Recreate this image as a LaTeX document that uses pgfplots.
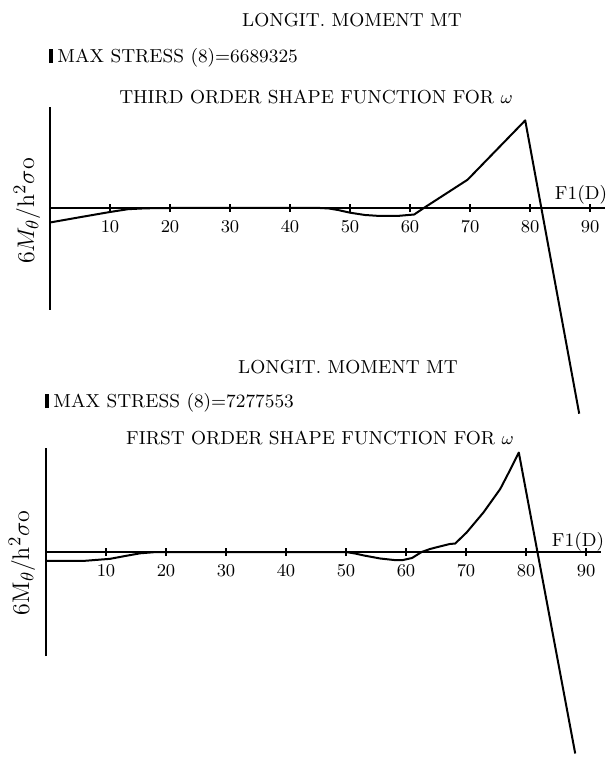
\documentclass[border=0pt]{standalone}
\usepackage{pgfplots}
\pgfplotsset{compat=1.18}
\newcommand{\tf}{\fontsize{9.4}{11}\selectfont}
\newcommand{\yl}{\fontsize{12.5}{14}\selectfont}
\newcommand{\blk}{\rule[-0.2pt]{2pt}{7pt}\hspace{2pt}}
\pgfplotsset{myax/.style={
  axis lines=middle, x=3pt, y=50pt, enlargelimits=false, clip=false,
  xmin=0, xmax=92.5, xtick={10,20,...,90}, ytick=\empty,
  tick align=center, major tick length=4pt,
  axis line style={-, line width=0.9pt},
  every tick/.style={black, line width=0.6pt},
  xticklabel style={font=\tf, yshift=-1pt},
  anchor=south west}}
\begin{document}
\begin{tikzpicture}[x=1pt,y=1pt]
\useasboundingbox (0pt,0pt) rectangle (305.5pt,-379pt);
% ---- top panel texts
\node[font=\tf] at (176pt,-10pt) {LONGIT. MOMENT MT};
\node[font=\tf, anchor=west, inner sep=0pt] at (24.5pt,-29pt) {\blk MAX STRESS (8)=6689325};
\node[font=\tf] at (158pt,-48.5pt) {THIRD ORDER SHAPE FUNCTION FOR $\omega$};
\node[font=\tf] at (290.5pt,-97.5pt) {F1(D)};
\node[font=\yl, rotate=90] at (13.5pt,-105.5pt) {$6M_\theta/\mathrm{h}^2\sigma\mathrm{o}$};
\begin{axis}[myax, at={(25pt,-155pt)}, ymin=-1.02, ymax=1.01]
\addplot[black, line width=1pt, line join=round] coordinates {
(0,-0.145) (5,-0.092) (10,-0.04) (13,-0.012) (16,-0.003) (20,0) (30,0) (40,0) (45,0)
(46.5,-0.005) (48,-0.02) (50,-0.047) (52.5,-0.07) (55,-0.08) (58.2,-0.078) (60.7,-0.065)
(62.3,0) (69.6,0.283) (79.2,0.876) (88.2,-2.057)};
\end{axis}
% ---- bottom panel texts
\node[font=\tf] at (174pt,-183.5pt) {LONGIT. MOMENT MT};
\node[font=\tf, anchor=west, inner sep=0pt] at (22.5pt,-201.5pt) {\blk MAX STRESS (8)=7277553};
\node[font=\tf] at (160pt,-219pt) {FIRST ORDER SHAPE FUNCTION FOR $\omega$};
\node[font=\tf] at (289pt,-271pt) {F1(D)};
\node[font=\yl, rotate=90] at (11pt,-281.5pt) {$6\mathrm{M}_\theta/\mathrm{h}^2\sigma\mathrm{o}$};
\begin{axis}[myax, at={(23pt,-328pt)}, ymin=-1.04, ymax=1.04]
\addplot[black, line width=1pt, line join=round] coordinates {
(0,-0.09) (6.5,-0.088) (10.7,-0.068) (13,-0.042) (15.7,-0.013) (18,-0.002) (20,0) (30,0) (40,0) (50,0)
(51.5,-0.015) (53,-0.035) (55.7,-0.065) (58,-0.08) (59.5,-0.08) (61,-0.06) (62.6,0)
(64,0.03) (65.6,0.055) (67.3,0.08) (68.2,0.085) (70.1,0.195) (72.9,0.395) (75.7,0.63)
(77.3,0.815) (78.8,0.995) (88.2,-2.015)};
\end{axis}
\end{tikzpicture}
\end{document}
